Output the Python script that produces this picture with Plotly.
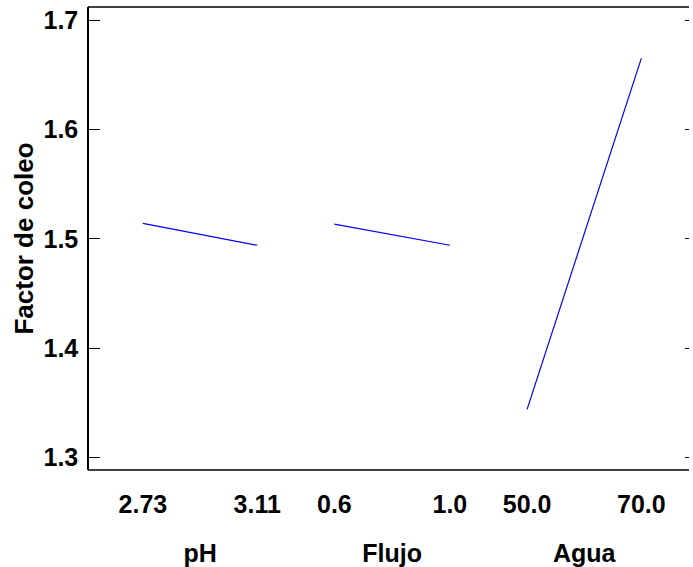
import plotly.graph_objects as go

# ---- data ----
factors = ["pH", "Flujo", "Agua"]
low_levels = [2.73, 0.6, 50.0]
high_levels = [3.11, 1.0, 70.0]
low_labels = ["2.73", "0.6", "50.0"]
high_labels = ["3.11", "1.0", "70.0"]
resp_low = [1.5142, 1.5135, 1.3439]
resp_high = [1.4941, 1.4941, 1.6652]
y_ticks = [1.3, 1.4, 1.5, 1.6, 1.7]

# ---- layout constants (pixels) ----
W, H = 693, 567
ML, MR, MT, MB = 88, 0, 7, 97
PW = W - ML - MR
seg_px = [(143.3, 258.3), (336.0, 452.3), (530.0, 645.0)]
PAD = 20.0

FONT = "Arial, Liberation Sans, Helvetica, sans-serif"
fnt = dict(family=FONT, size=25, color="black", weight="bold")
tfnt = dict(family=FONT, size=25, color="black", weight="bold")

fig = go.Figure()
layout_axes = {}
for i in range(3):
    ax = "" if i == 0 else str(i + 1)
    p0, p1 = seg_px[i]
    lo, hi = low_levels[i], high_levels[i]
    k = (hi - lo) / (p1 - p0)
    dom = [(p0 - PAD - ML) / PW, (p1 + PAD - ML) / PW]
    rng = [lo - PAD * k, hi + PAD * k]
    fig.add_trace(go.Scatter(
        x=[lo, hi], y=[resp_low[i], resp_high[i]], mode="lines",
        line=dict(color="#0000ff", width=1.2), xaxis="x" + ax, yaxis="y",
        showlegend=False, hoverinfo="skip"))
    layout_axes["xaxis" + ax] = dict(
        domain=dom, range=rng, anchor="y", showline=False, showgrid=False,
        zeroline=False, ticks="", tickmode="array",
        tickvals=[lo, hi], ticktext=[low_labels[i], high_labels[i]],
        tickfont=fnt, ticklabelstandoff=17,
        title=dict(text=factors[i], font=tfnt, standoff=27))

# dummy trace for right-side tick axis
fig.add_trace(go.Scatter(x=[], y=[], xaxis="x3", yaxis="y2", showlegend=False))

yr = [1.2884, 1.7122]
fig.update_layout(
    width=W, height=H, autosize=False,
    margin=dict(l=ML, r=MR, t=MT, b=MB, pad=0),
    paper_bgcolor="white", plot_bgcolor="white",
    font=dict(family=FONT, color="black"),
    yaxis=dict(range=yr, anchor="free", position=0, showline=True,
               linecolor="black", linewidth=1.5, showgrid=False, zeroline=False,
               ticks="inside", ticklen=11, tickwidth=1.2, tickcolor="black",
               tickvals=y_ticks, ticktext=[f"{v:.1f}" for v in y_ticks],
               tickfont=fnt, ticklabelstandoff=4,
               title=dict(text="Factor de coleo", font=dict(tfnt, size=26), standoff=1)),
    yaxis2=dict(range=yr, overlaying="y", side="right", anchor="free", position=1,
                showline=False, showgrid=False, zeroline=False,
                ticks="inside", ticklen=4, tickwidth=1.2, tickcolor="black",
                tickvals=y_ticks, showticklabels=False),
    shapes=[
        dict(type="line", xref="paper", yref="paper", x0=0, x1=1, y0=1, y1=1,
             line=dict(color="black", width=1.5)),
        dict(type="line", xref="paper", yref="paper", x0=0, x1=1, y0=0, y1=0,
             line=dict(color="black", width=1.5)),
    ],
    **layout_axes,
)

fig.write_html("out.html")
